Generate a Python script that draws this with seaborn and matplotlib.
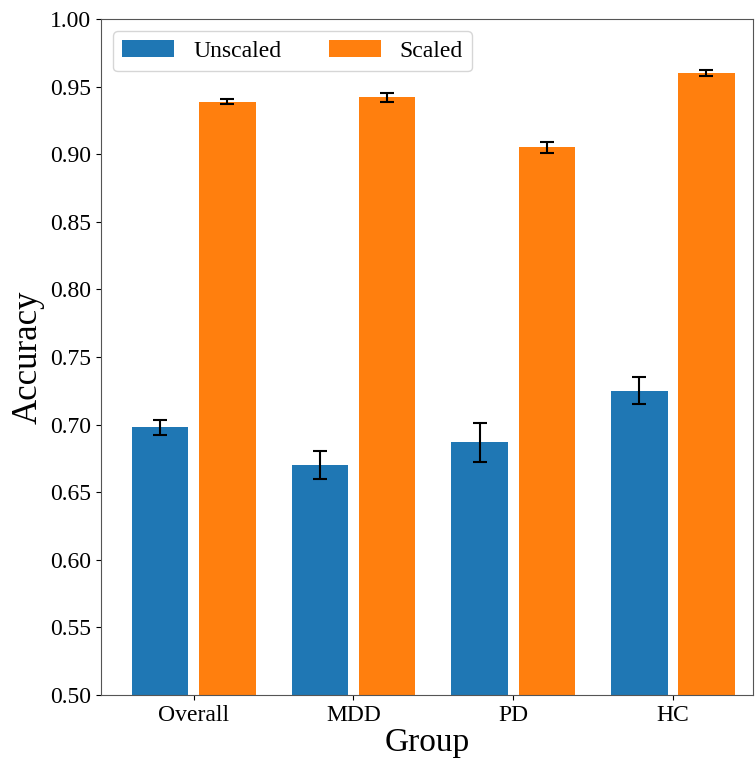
import pandas as pd
import seaborn as sns
import matplotlib.pyplot as plt

groups = ['Overall', 'MDD', 'PD', 'HC']
unscaled_acc = [0.698, 0.670, 0.687, 0.725]
unscaled_err = [0.0055, 0.0105, 0.0145, 0.010]
scaled_acc = [0.939, 0.942, 0.905, 0.960]
scaled_err = [0.0015, 0.003, 0.004, 0.002]
conditions = ['Unscaled', 'Scaled']

df = pd.DataFrame({
    'Group': groups * 2,
    'Condition': ['Unscaled'] * 4 + ['Scaled'] * 4,
    'Accuracy': unscaled_acc + scaled_acc,
    'Err': unscaled_err + scaled_err,
})

plt.rcParams['font.family'] = ['Liberation Serif', 'DejaVu Serif']

fig = plt.figure(figsize=(7.55, 7.62), dpi=100)
ax = fig.add_axes([0.134, 0.088, 0.863, 0.887])

sns.barplot(data=df, x='Group', y='Accuracy', hue='Condition', order=groups,
            hue_order=conditions, palette=['#1f77b4', '#ff7f0e'], saturation=1,
            width=0.84, gap=0.16, errorbar=None, linewidth=0, ax=ax)

# error bars from the bar positions seaborn laid out
for cond, bars in zip(conditions, ax.containers):
    sub = df[df['Condition'] == cond].set_index('Group').loc[groups]
    xs = [b.get_x() + b.get_width() / 2 for b in bars]
    ax.errorbar(xs, sub['Accuracy'], yerr=sub['Err'], fmt='none',
                ecolor='black', elinewidth=1.5, capsize=5, capthick=1.5)

ax.set_ylim(0.5, 1.0)
ax.set_xlim(-0.58, 3.5)
ax.set_yticks([0.5 + 0.05 * i for i in range(11)])
ax.set_yticklabels([f'{0.5 + 0.05 * i:.2f}' for i in range(11)])
ax.tick_params(labelsize=17)
ax.set_xlabel('Group', fontsize=24, labelpad=1)
ax.set_ylabel('Accuracy', fontsize=25)
for s in ax.spines.values():
    s.set_color('#555555')

ax.legend(loc='upper left', ncol=2, fontsize=17, columnspacing=2.0,
          handlelength=2.2, title=None)

plt.savefig('out.png', dpi=100)
